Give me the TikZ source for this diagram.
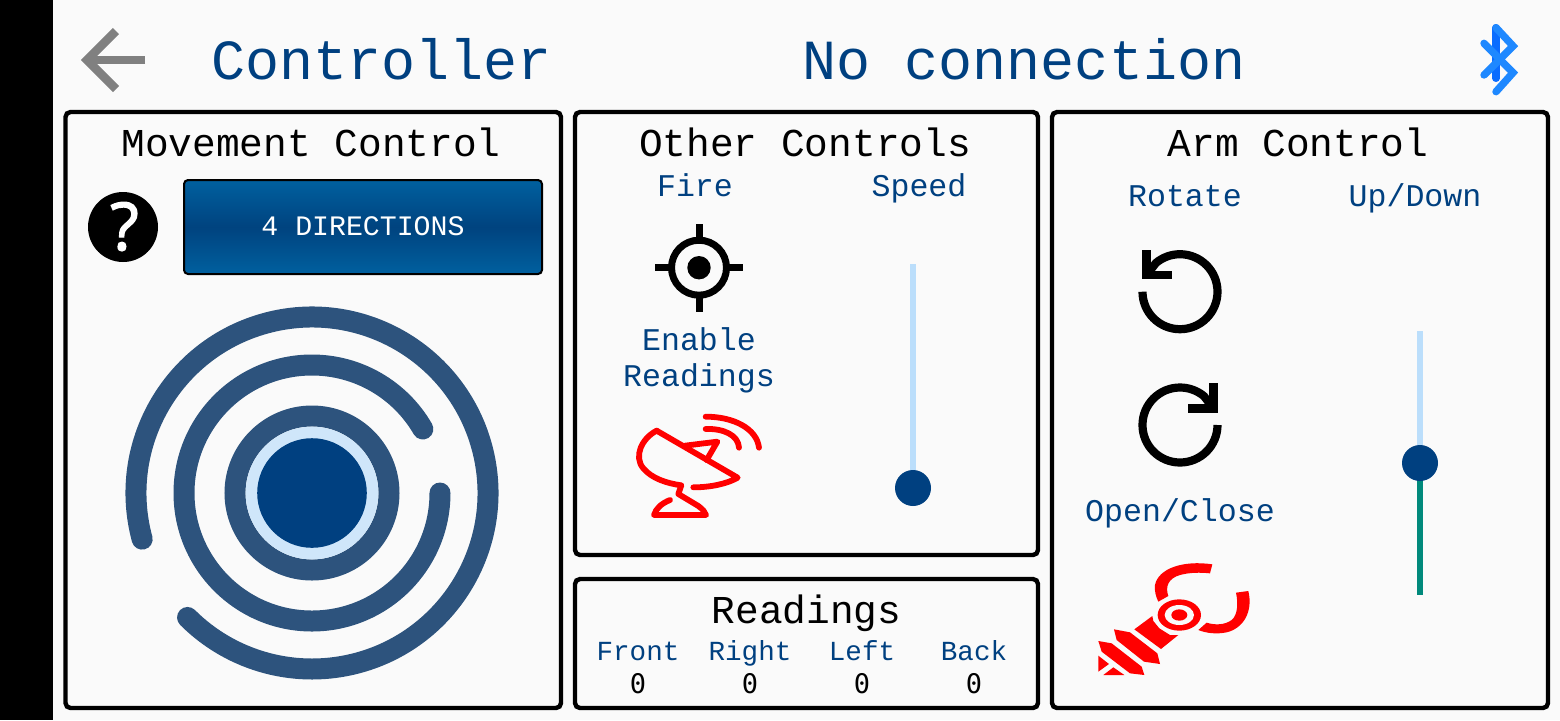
\documentclass[tikz,border=0pt]{standalone}
\usepackage{fontspec}
\setmainfont{Liberation Mono}
\newfontfamily\qfont[FakeBold=2]{Open Sans}
\newfontfamily\zerofont{DejaVu Sans Mono}
\definecolor{bgc}{HTML}{FAFAFA}
\definecolor{navy}{HTML}{004080}
\definecolor{ringc}{HTML}{2D537D}
\definecolor{paleblue}{HTML}{CFE6FA}
\definecolor{trackc}{HTML}{BBDEFB}
\definecolor{tealc}{HTML}{00897B}
\definecolor{btop}{HTML}{00609F}
\definecolor{bmid}{HTML}{00437F}
\definecolor{bluet}{HTML}{1E88FF}
\definecolor{bluetd}{HTML}{0A6CFF}
\newcommand{\fsz}[1]{\fontsize{#1}{#1}\selectfont}
\tikzset{
  panel/.style={draw=black,line width=2.2pt,rounded corners=2.5pt},
  head/.style={anchor=base,inner sep=0pt,text=navy,font=\fsz{28.35}},
  ptitle/.style={anchor=base,inner sep=0pt,text=black,font=\fsz{19.75}},
  lab/.style={anchor=base,inner sep=0pt,text=navy,font=\fsz{15.8}},
  small/.style={anchor=base,inner sep=0pt,text=navy,font=\fsz{13.8}},
  val/.style={anchor=base,inner sep=0pt,text=black,font=\zerofont\fsz{13.5}},
  ring/.style={draw=ringc,line width=10.5pt,line cap=round},
  icon/.style={draw=black,line width=4.1pt},
  dish/.style={draw=red,line width=2.9pt,line cap=round,line join=round},
  track/.style={line width=3pt},
  thumb/.style={circle,fill=navy,minimum size=18pt,inner sep=0pt},
  bt/.style={draw=bluet,line width=3.7pt,line cap=round,line join=miter},
}
\begin{document}
\begin{tikzpicture}[x=0.5pt,y=-0.5pt]
\useasboundingbox (0,0) rectangle (1560,720);
\fill[bgc] (0,0) rectangle (1560,720);
\fill[black] (0,0) rectangle (53,720);

% header
\draw[draw=gray,line width=4.3pt,line join=miter] (145,60) -- (86,60);
\draw[draw=gray,line width=4.3pt,line join=miter] (116,31) -- (87,60) -- (116,89);
\node[head] (title) at (381.5,79) {Controller};
\node[head] (status) at (1024,79) {No connection};
% bluetooth
\draw[draw=bluetd,line width=3.7pt,line cap=round] (1496,27.7) -- (1496,78.3);
\draw[bt] (1484,43.3) -- (1513,72.7) -- (1496,91.7);
\draw[bt] (1484,75) -- (1513,46) -- (1496,27.7);

% panels
\draw[panel] (65.5,112) rectangle (561,708);
\draw[panel] (575,112) rectangle (1038,555);
\draw[panel] (575,579) rectangle (1038,708);
\draw[panel] (1052,112) rectangle (1548,708);

\node[ptitle] (mc) at (311,156.5) {Movement Control};
\node[ptitle] (oc) at (805,156.5) {Other Controls};
\node[ptitle] (ac) at (1298,156.5) {Arm Control};
\node[ptitle] (rd) at (806.5,623) {Readings};

% help + button
\fill[black] (123,227) circle[radius=35];
\node[anchor=base,inner sep=0pt,text=white,font=\qfont\fsz{33}] (help) at (124.5,250) {?};
\shade[draw=black,line width=1pt,rounded corners=2pt,top color=btop,bottom color=btop,middle color=bmid] (184,180) rectangle (542,274);
\node[anchor=base,inner sep=0pt,text=white,font=\fsz{14.1}] (btn) at (363,235.5) {4 DIRECTIONS};

% joystick
\draw[ring] (312,493) ++(164.8:176) arc[start angle=164.8,end angle=495,radius=176];
\draw[ring] (312,493) ++(0:128) arc[start angle=0,end angle=330,radius=128];
\draw[draw=ringc,line width=10.5pt] (312,493) circle[radius=77];
\fill[paleblue] (312,493) circle[radius=66.3];
\fill[navy] (312,493) circle[radius=54.8];

% other controls
\node[lab] (fire) at (695,196) {Fire};
\node[lab] (speed) at (919,196) {Speed};
\draw[icon,line width=3.5pt] (699,267.7) circle[radius=27.5];
\fill[black] (699,267.7) circle[radius=11.7];
\draw[icon,line width=3.5pt] (699,224) -- (699,240) (699,295) -- (699,311.5) (655,267.7) -- (671,267.7) (727,267.7) -- (743,267.7);
\node[lab] (en) at (699,350) {Enable};
\node[lab] (re) at (699,386) {Readings};

\begin{scope}[shift={(600,400)},x=0.5pt/3,y=-0.5pt/3]
\draw[dish] (170,92) -- (413,233) .. controls (380,252) and (330,262) .. (280,262);
\draw[dish] (170,92) .. controls (125,115) and (100,170) .. (130,205) .. controls (155,235) and (200,250) .. (244,256) -- (235,282) -- (295,318) .. controls (308,328) and (315,335) .. (318,345) -- (162,345) .. controls (168,325) and (185,310) .. (210,300);
\draw[dish] (255,137) -- (352,125) -- (320,180);
\draw[dish] (317,87) .. controls (370,85) and (415,105) .. (417,143);
\draw[dish] (317,50) .. controls (400,50) and (470,85) .. (477,143);
\end{scope}

\draw[track,draw=trackc] (913,264) -- (913,488);
\node[thumb] (th1) at (913,488) {};

% readings
\node[small] (rf) at (638,660) {Front};
\node[small] (rr) at (750,660) {Right};
\node[small] (rl) at (862,660) {Left};
\node[small] (rb) at (974,660) {Back};
\node[val] (v1) at (638,693) {0};
\node[val] (v2) at (750,693) {0};
\node[val] (v3) at (862,693) {0};
\node[val] (v4) at (974,693) {0};

% arm control
\node[lab] (rot) at (1185,206) {Rotate};
\node[lab] (ud) at (1415,206) {Up/Down};
\draw[icon] (1142.5,291.7) arc[start angle=180,end angle=-130,radius=37.5] -- (1146.5,275.2);
\draw[icon,line join=miter] (1146.5,250) -- (1146.5,275.2) -- (1171.7,275.2);
\draw[icon] (1217.5,425) arc[start angle=0,end angle=310,radius=37.5] -- (1213.5,408.5);
\draw[icon,line join=miter] (1213.5,383.3) -- (1213.5,408.5) -- (1188.3,408.5);
\node[lab] (oc2) at (1180,521.5) {Open/Close};

\begin{scope}[shift={(1070,540)},x=0.5pt/3,y=-0.5pt/3]
\fill[red] (328,225) ellipse[x radius=65,y radius=47];
\fill[bgc] (328,225) ellipse[x radius=44,y radius=30];
\fill[red] (328,225) ellipse[x radius=24,y radius=17];
\fill[red] (427,73) .. controls (340,60) and (265,85) .. (255,135) .. controls (253,155) and (258,170) .. (265,185) -- (295,168) .. controls (285,140) and (295,115) .. (330,105) .. controls (360,97) and (390,97) .. (420,100) -- cycle;
\fill[red] (498,158) -- (535,153) .. controls (550,215) and (520,265) .. (470,277) .. controls (440,283) and (410,280) .. (385,270) -- (410,248) .. controls (435,256) and (465,255) .. (485,240) .. controls (503,225) and (505,190) .. (498,158) -- cycle;
\fill[red] (193,268) -- (247,228) -- (250,243) -- (268,265) -- (300,285) -- (325,285) -- (273,327) -- cycle;
\fill[red] (132,268) -- (180,277) -- (262,340) -- (270,372) -- (222,365) -- (140,300) -- cycle;
\fill[red] (85,303) -- (125,310) -- (215,380) -- (223,405) -- (180,400) -- (95,335) -- cycle;
\fill[red] (85,347) -- (117,372) -- (85,395) -- cycle;
\fill[red] (100,405) -- (130,382) -- (163,405) -- cycle;
\end{scope}

\draw[track,draw=trackc] (1420,331) -- (1420,463);
\draw[track,draw=tealc] (1420,463) -- (1420,595);
\node[thumb] (th2) at (1420,463) {};
\end{tikzpicture}
\end{document}
